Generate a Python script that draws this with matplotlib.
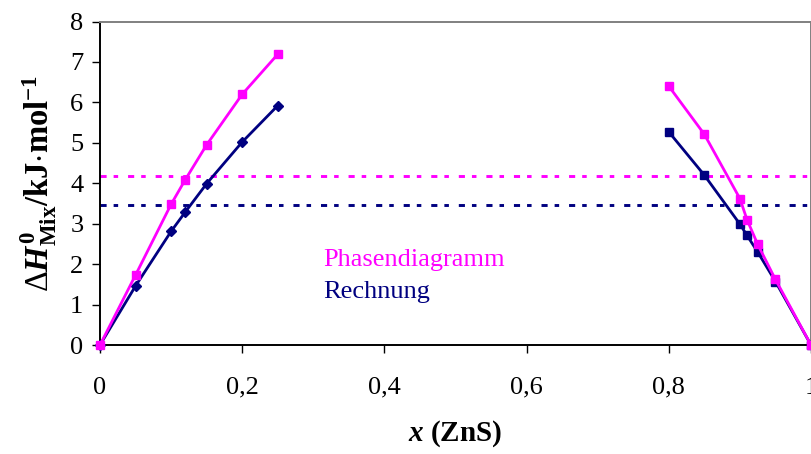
import numpy as np
import matplotlib.pyplot as plt

plt.rcParams['font.family'] = ['Liberation Serif', 'DejaVu Serif']
plt.rcParams['mathtext.fontset'] = 'custom'
plt.rcParams['mathtext.rm'] = 'Liberation Serif'
plt.rcParams['mathtext.it'] = 'Liberation Serif:italic:bold'
plt.rcParams['mathtext.bf'] = 'Liberation Serif:bold'

# Phasendiagramm (magenta) und Rechnung (navy), ZnS-arme und -reiche Seite
x_links = [0, 0.05, 0.10, 0.12, 0.15, 0.20, 0.25]
h_phasen_links = [0, 1.73, 3.48, 4.09, 4.95, 6.20, 7.19]
h_rechnung_links = [0, 1.46, 2.81, 3.29, 3.99, 5.02, 5.92]

x_rechts = [0.80, 0.85, 0.90, 0.91, 0.925, 0.95, 1.0]
h_phasen_rechts = [6.40, 5.21, 3.62, 3.10, 2.49, 1.62, 0]
h_rechnung_rechts = [5.27, 4.20, 2.99, 2.71, 2.30, 1.57, 0]

h_phasen_grenze = 4.17
h_rechnung_grenze = 3.46

MAGENTA = '#FF00FF'
NAVY = '#000080'

fig = plt.figure(figsize=(8.12, 4.54), dpi=100)
ax = fig.add_axes([100 / 812, 1 - 345 / 454, 711 / 812, 323.5 / 454])

strich = (0, (2.1, 2.4, 1.55, 3.4))
ax.axhline(h_phasen_grenze, color=MAGENTA, lw=2.1, ls=strich)
ax.axhline(h_rechnung_grenze, color=NAVY, lw=2.1, ls=strich)

ax.plot(x_links, h_rechnung_links, color=NAVY, lw=2, marker='D', ms=4.8,
        clip_on=False, zorder=3)
ax.plot(x_links, h_phasen_links, color=MAGENTA, lw=2, marker='s', ms=5.5,
        clip_on=False, zorder=4)
ax.plot(x_rechts, h_rechnung_rechts, color=NAVY, lw=2, marker='s', ms=5.5,
        clip_on=False, zorder=3)
ax.plot(x_rechts, h_phasen_rechts, color=MAGENTA, lw=2, marker='s', ms=5.5,
        clip_on=False, zorder=4)

ax.text(0.314, 1.95, 'Phasendiagramm', color=MAGENTA, fontsize=19)
ax.text(0.314, 1.16, 'Rechnung', color=NAVY, fontsize=19)

ax.set_xlim(0, 1)
ax.set_ylim(0, 8)
ax.set_xticks([0, 0.2, 0.4, 0.6, 0.8, 1.0])
ax.set_xticklabels(['0', '0,2', '0,4', '0,6', '0,8', '1'])
ax.set_yticks(range(0, 9))
ax.tick_params(direction='out', length=6, width=1, labelsize=19, pad=6)
ax.tick_params(axis='x', pad=17)

for s in ('left', 'bottom'):
    ax.spines[s].set_linewidth(1.4)
    ax.spines[s].set_color('black')
for s in ('top', 'right'):
    ax.spines[s].set_linewidth(1.4)
    ax.spines[s].set_color('#808080')

ax.set_xlabel(r'$\mathit{x}$ (ZnS)', fontsize=21, fontweight='bold', labelpad=14)
ax.set_ylabel(r'$\Delta\mathit{H}^{\mathbf{0}}_{\mathbf{Mix}}$/kJ$\cdot$mol$^{\mathbf{-1}}$',
              fontsize=23.5, fontweight='bold', labelpad=8)

fig.savefig('out.png', dpi=100)
